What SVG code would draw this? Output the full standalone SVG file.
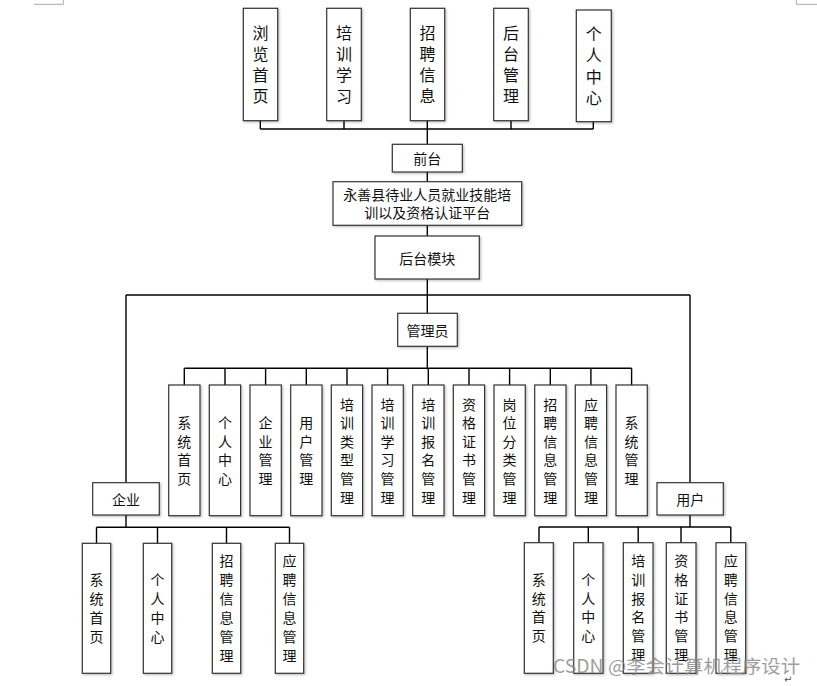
<svg xmlns="http://www.w3.org/2000/svg" width="817" height="686" viewBox="0 0 817 686">
<defs>
<filter id="sh" x="-20%" y="-20%" width="140%" height="140%">
<feDropShadow dx="1.2" dy="1.2" stdDeviation="1" flood-color="#000" flood-opacity="0.25"/>
</filter>
</defs>
<style>
.box{fill:#fff;stroke:#333;stroke-width:1.2;filter:url(#sh)}
.t{font-family:"Noto Sans CJK SC","Noto Sans CJK JP",sans-serif;font-size:14px;fill:#111;text-anchor:middle;dominant-baseline:central}
.tl{font-size:16px}
.c{fill:none;stroke:#000;stroke-width:1.4}
.corner{fill:none;stroke:#aaa;stroke-width:1}
.wm{font-family:"Noto Sans CJK SC","Liberation Sans",sans-serif;font-size:18.5px;fill:#8c8c8c;fill-opacity:0.85}
</style>
<rect width="817" height="686" fill="#fff"/>
<path class="corner" d="M34,4.3H63.3V0M796.3,0V4.3H817"/>

<g id="connectors">
<path class="c" d="M260.3,120.7V129M344,120.7V129M427.3,120.7V129M511,120.7V129M593.3,121.7V129M260.3,129H593.3M427.3,129V144.3M427.3,172V181.7M427.3,225.3V236M427.3,279V313.3"/>
<path class="c" d="M126,295H690M126,295V482.7M690,295V482.7"/>
<path class="c" d="M427.3,346.3V368.3M184.3,368.3H631.6M184.3,368.3V385M225,368.3V385M265.6,368.3V385M306.3,368.3V385M347,368.3V385M387.6,368.3V385M428.3,368.3V385M469,368.3V385M509.6,368.3V385M550.3,368.3V385M590.9,368.3V385M631.6,368.3V385"/>
<path class="c" d="M126,515V527.3M96.5,527.3H289.5M96.5,527.3V543.3M157.5,527.3V543.3M226.5,527.3V543.3M289.5,527.3V543.3"/>
<path class="c" d="M690,515V527M539,527H730.7M539,527V542.7M588.3,527V542.7M638.2,527V542.7M681,527V542.7M730.8,527V542.7"/>
</g>

<g id="n-browse"><rect class="box" x="243.3" y="8.3" width="34.4" height="112.4"/>
<text class="t tl"><tspan x="260.5" y="32.2">浏</tspan><tspan x="260.5" y="53.2">览</tspan><tspan x="260.5" y="74.2">首</tspan><tspan x="260.5" y="95.2">页</tspan></text></g>
<g id="n-train"><rect class="box" x="326.7" y="8.3" width="34.6" height="112.4"/>
<text class="t tl"><tspan x="344" y="32.2">培</tspan><tspan x="344" y="53.2">训</tspan><tspan x="344" y="74.2">学</tspan><tspan x="344" y="95.2">习</tspan></text></g>
<g id="n-recruit"><rect class="box" x="410.3" y="8.3" width="34.4" height="112.4"/>
<text class="t tl"><tspan x="427.5" y="32.2">招</tspan><tspan x="427.5" y="53.2">聘</tspan><tspan x="427.5" y="74.2">信</tspan><tspan x="427.5" y="95.2">息</tspan></text></g>
<g id="n-backend"><rect class="box" x="493.7" y="8.3" width="34.6" height="112.4"/>
<text class="t tl"><tspan x="511" y="32.2">后</tspan><tspan x="511" y="53.2">台</tspan><tspan x="511" y="74.2">管</tspan><tspan x="511" y="95.2">理</tspan></text></g>
<g id="n-personal"><rect class="box" x="576.3" y="10" width="35" height="111.7"/>
<text class="t tl"><tspan x="593.8" y="33.3">个</tspan><tspan x="593.8" y="54.4">人</tspan><tspan x="593.8" y="75.6">中</tspan><tspan x="593.8" y="96.7">心</tspan></text></g>

<g id="n-front"><rect class="box" x="392.3" y="144.3" width="70" height="27.7"/>
<text class="t" x="427.3" y="158.2">前台</text></g>
<g id="n-platform"><rect class="box" x="333" y="181.7" width="188.7" height="43.6"/>
<text class="t" x="427.3" y="194.3">永善县待业人员就业技能培</text>
<text class="t" x="427.3" y="212.3">训以及资格认证平台</text></g>
<g id="n-backmod"><rect class="box" x="375" y="236" width="104.3" height="43"/>
<text class="t" x="427.3" y="257.5">后台模块</text></g>
<g id="n-admin"><rect class="box" x="397.7" y="313.3" width="59.6" height="33"/>
<text class="t" x="427.5" y="329.8">管理员</text></g>

<g id="a-1"><rect class="box" x="168.7" y="385" width="31.3" height="130.7"/>
<text class="t"><tspan x="184.3" y="422.1">系</tspan><tspan x="184.3" y="440.7">统</tspan><tspan x="184.3" y="459.3">首</tspan><tspan x="184.3" y="477.9">页</tspan></text></g>
<g id="a-2"><rect class="box" x="209.3" y="385" width="31.3" height="130.7"/>
<text class="t"><tspan x="225" y="422.1">个</tspan><tspan x="225" y="440.7">人</tspan><tspan x="225" y="459.3">中</tspan><tspan x="225" y="477.9">心</tspan></text></g>
<g id="a-3"><rect class="box" x="250" y="385" width="31.3" height="130.7"/>
<text class="t"><tspan x="265.6" y="422.1">企</tspan><tspan x="265.6" y="440.7">业</tspan><tspan x="265.6" y="459.3">管</tspan><tspan x="265.6" y="477.9">理</tspan></text></g>
<g id="a-4"><rect class="box" x="290.7" y="385" width="31.3" height="130.7"/>
<text class="t"><tspan x="306.3" y="422.1">用</tspan><tspan x="306.3" y="440.7">户</tspan><tspan x="306.3" y="459.3">管</tspan><tspan x="306.3" y="477.9">理</tspan></text></g>
<g id="a-5"><rect class="box" x="331.3" y="385" width="31.3" height="130.7"/>
<text class="t"><tspan x="347" y="403.5">培</tspan><tspan x="347" y="422.1">训</tspan><tspan x="347" y="440.7">类</tspan><tspan x="347" y="459.3">型</tspan><tspan x="347" y="477.9">管</tspan><tspan x="347" y="496.5">理</tspan></text></g>
<g id="a-6"><rect class="box" x="372" y="385" width="31.3" height="130.7"/>
<text class="t"><tspan x="387.6" y="403.5">培</tspan><tspan x="387.6" y="422.1">训</tspan><tspan x="387.6" y="440.7">学</tspan><tspan x="387.6" y="459.3">习</tspan><tspan x="387.6" y="477.9">管</tspan><tspan x="387.6" y="496.5">理</tspan></text></g>
<g id="a-7"><rect class="box" x="412.7" y="385" width="31.3" height="130.7"/>
<text class="t"><tspan x="428.3" y="403.5">培</tspan><tspan x="428.3" y="422.1">训</tspan><tspan x="428.3" y="440.7">报</tspan><tspan x="428.3" y="459.3">名</tspan><tspan x="428.3" y="477.9">管</tspan><tspan x="428.3" y="496.5">理</tspan></text></g>
<g id="a-8"><rect class="box" x="453.3" y="385" width="31.3" height="130.7"/>
<text class="t"><tspan x="469" y="403.5">资</tspan><tspan x="469" y="422.1">格</tspan><tspan x="469" y="440.7">证</tspan><tspan x="469" y="459.3">书</tspan><tspan x="469" y="477.9">管</tspan><tspan x="469" y="496.5">理</tspan></text></g>
<g id="a-9"><rect class="box" x="494" y="385" width="31.3" height="130.7"/>
<text class="t"><tspan x="509.6" y="403.5">岗</tspan><tspan x="509.6" y="422.1">位</tspan><tspan x="509.6" y="440.7">分</tspan><tspan x="509.6" y="459.3">类</tspan><tspan x="509.6" y="477.9">管</tspan><tspan x="509.6" y="496.5">理</tspan></text></g>
<g id="a-10"><rect class="box" x="534.7" y="385" width="31.3" height="130.7"/>
<text class="t"><tspan x="550.3" y="403.5">招</tspan><tspan x="550.3" y="422.1">聘</tspan><tspan x="550.3" y="440.7">信</tspan><tspan x="550.3" y="459.3">息</tspan><tspan x="550.3" y="477.9">管</tspan><tspan x="550.3" y="496.5">理</tspan></text></g>
<g id="a-11"><rect class="box" x="575.3" y="385" width="31.3" height="130.7"/>
<text class="t"><tspan x="590.9" y="403.5">应</tspan><tspan x="590.9" y="422.1">聘</tspan><tspan x="590.9" y="440.7">信</tspan><tspan x="590.9" y="459.3">息</tspan><tspan x="590.9" y="477.9">管</tspan><tspan x="590.9" y="496.5">理</tspan></text></g>
<g id="a-12"><rect class="box" x="616" y="385" width="31.3" height="130.7"/>
<text class="t"><tspan x="631.6" y="422.1">系</tspan><tspan x="631.6" y="440.7">统</tspan><tspan x="631.6" y="459.3">管</tspan><tspan x="631.6" y="477.9">理</tspan></text></g>

<g id="n-company"><rect class="box" x="92.7" y="482.7" width="66.6" height="32.3"/>
<text class="t" x="126" y="498.5">企业</text></g>
<g id="n-user"><rect class="box" x="657" y="482.7" width="66.3" height="32.3"/>
<text class="t" x="690.2" y="498.5">用户</text></g>

<g id="c-1"><rect class="box" x="82.3" y="543.3" width="28.4" height="130"/>
<text class="t"><tspan x="96.5" y="578.5">系</tspan><tspan x="96.5" y="597.5">统</tspan><tspan x="96.5" y="616.5">首</tspan><tspan x="96.5" y="635.5">页</tspan></text></g>
<g id="c-2"><rect class="box" x="143.3" y="543.3" width="28.4" height="130"/>
<text class="t"><tspan x="157.5" y="578.5">个</tspan><tspan x="157.5" y="597.5">人</tspan><tspan x="157.5" y="616.5">中</tspan><tspan x="157.5" y="635.5">心</tspan></text></g>
<g id="c-3"><rect class="box" x="212.3" y="543.3" width="28.4" height="130"/>
<text class="t"><tspan x="226.5" y="559.5">招</tspan><tspan x="226.5" y="578.5">聘</tspan><tspan x="226.5" y="597.5">信</tspan><tspan x="226.5" y="616.5">息</tspan><tspan x="226.5" y="635.5">管</tspan><tspan x="226.5" y="654.5">理</tspan></text></g>
<g id="c-4"><rect class="box" x="275.3" y="543.3" width="28.4" height="130"/>
<text class="t"><tspan x="289.5" y="559.5">应</tspan><tspan x="289.5" y="578.5">聘</tspan><tspan x="289.5" y="597.5">信</tspan><tspan x="289.5" y="616.5">息</tspan><tspan x="289.5" y="635.5">管</tspan><tspan x="289.5" y="654.5">理</tspan></text></g>

<g id="u-1"><rect class="box" x="524.3" y="542.7" width="29" height="130.6"/>
<text class="t"><tspan x="538.8" y="579">系</tspan><tspan x="538.8" y="597.7">统</tspan><tspan x="538.8" y="616.3">首</tspan><tspan x="538.8" y="635">页</tspan></text></g>
<g id="u-2"><rect class="box" x="573.7" y="542.7" width="29.3" height="130.6"/>
<text class="t"><tspan x="588.3" y="579">个</tspan><tspan x="588.3" y="597.7">人</tspan><tspan x="588.3" y="616.3">中</tspan><tspan x="588.3" y="635">心</tspan></text></g>
<g id="u-3"><rect class="box" x="623.3" y="542.7" width="29.7" height="130.6"/>
<text class="t"><tspan x="638.2" y="560.3">培</tspan><tspan x="638.2" y="579">训</tspan><tspan x="638.2" y="597.7">报</tspan><tspan x="638.2" y="616.3">名</tspan><tspan x="638.2" y="635">管</tspan><tspan x="638.2" y="653.7">理</tspan></text></g>
<g id="u-4"><rect class="box" x="666.3" y="542.7" width="29.7" height="130.6"/>
<text class="t"><tspan x="681.2" y="560.3">资</tspan><tspan x="681.2" y="579">格</tspan><tspan x="681.2" y="597.7">证</tspan><tspan x="681.2" y="616.3">书</tspan><tspan x="681.2" y="635">管</tspan><tspan x="681.2" y="653.7">理</tspan></text></g>
<g id="u-5"><rect class="box" x="716" y="542.7" width="29.7" height="130.6"/>
<text class="t"><tspan x="730.8" y="560.3">应</tspan><tspan x="730.8" y="579">聘</tspan><tspan x="730.8" y="597.7">信</tspan><tspan x="730.8" y="616.3">息</tspan><tspan x="730.8" y="635">管</tspan><tspan x="730.8" y="653.7">理</tspan></text></g>

<text class="wm" x="553" y="673" textLength="247" lengthAdjust="spacingAndGlyphs">CSDN @李会计算机程序设计</text>
<text x="784" y="683" font-family="DejaVu Sans, sans-serif" font-size="10" fill="#555">↵</text>
</svg>
